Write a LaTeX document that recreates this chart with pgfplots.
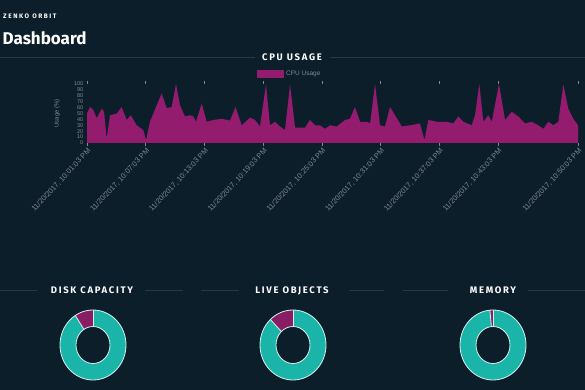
\documentclass[border=0pt]{standalone}
\usepackage{fontspec}
\setmainfont{Liberation Sans}
\newfontfamily\hfont{Fira Sans}
\usepackage{pgfplots}
\pgfplotsset{compat=1.18}
\definecolor{bg}{HTML}{0D1E2B}
\definecolor{mag}{HTML}{931C6F}
\definecolor{slicemag}{HTML}{8A1C63}
\definecolor{tealc}{HTML}{1AB5A8}
\definecolor{ringline}{HTML}{D5F2EE}
\definecolor{sepc}{HTML}{263946}
\definecolor{labc}{HTML}{7E8992}
\begin{document}
\begin{tikzpicture}
\fill[bg] (0pt,0pt) rectangle (585pt,390pt);
\useasboundingbox (0pt,0pt) rectangle (585pt,390pt);
% header
\node[anchor=base west, text=white, inner sep=0pt] at (3pt,371.7pt) {\hfont\bfseries\fontsize{6.5}{6.5}\selectfont\addfontfeature{LetterSpace=24}ZENKO ORBIT};
\node[anchor=base west, text=white, inner sep=0pt] at (2.5pt,345pt) {\hfont\bfseries\fontsize{17}{17}\selectfont Dashboard};
% CPU title
\draw[sepc, line width=0.6pt] (0pt,332.3pt) -- (255pt,332.3pt);
\draw[sepc, line width=0.6pt] (330pt,332.3pt) -- (585pt,332.3pt);
\node[text=white, inner sep=0pt] at (292pt,332.3pt) {\hfont\bfseries\fontsize{9.5}{9.5}\selectfont\addfontfeature{LetterSpace=18}CPU USAGE};
% donut titles
\draw[sepc, line width=0.6pt] (0pt,99.3pt) -- (37pt,99.3pt);
\draw[sepc, line width=0.6pt] (145pt,99.3pt) -- (183pt,99.3pt);
\draw[sepc, line width=0.6pt] (201pt,99.3pt) -- (239pt,99.3pt);
\draw[sepc, line width=0.6pt] (349pt,99.3pt) -- (384pt,99.3pt);
\draw[sepc, line width=0.6pt] (403pt,99.3pt) -- (448pt,99.3pt);
\draw[sepc, line width=0.6pt] (528pt,99.3pt) -- (585pt,99.3pt);
\node[text=white, inner sep=0pt] at (92pt,99.3pt) {\hfont\bfseries\fontsize{9.5}{9.5}\selectfont\addfontfeature{LetterSpace=18}DISK CAPACITY};
\node[text=white, inner sep=0pt] at (292pt,99.3pt) {\hfont\bfseries\fontsize{9.5}{9.5}\selectfont\addfontfeature{LetterSpace=18}LIVE OBJECTS};
\node[text=white, inner sep=0pt] at (493pt,99.3pt) {\hfont\bfseries\fontsize{9.5}{9.5}\selectfont\addfontfeature{LetterSpace=18}MEMORY};

% CPU usage chart
\begin{axis}[
  at={(87pt,247pt)}, anchor=south west,
  scale only axis, width=491pt, height=59pt,
  xmin=0, xmax=50.15, ymin=0, ymax=100,
  axis line style={draw=none},
  tick align=outside, major tick length=3pt,
  ytick={0,10,...,100}, ytick style={draw=none},
  yticklabel style={font=\fontsize{5.5}{5.5}\selectfont, text=labc, inner sep=0.5pt},
  xtick={0,6,12,18,24,30,36,42,50.15},
  xticklabels={{11/20/2017, 10:01:03 PM},{11/20/2017, 10:07:03 PM},{11/20/2017, 10:13:03 PM},{11/20/2017, 10:19:03 PM},{11/20/2017, 10:25:03 PM},{11/20/2017, 10:31:03 PM},{11/20/2017, 10:37:03 PM},{11/20/2017, 10:43:03 PM},{11/20/2017, 10:50:03 PM}},
  xticklabel style={rotate=47, anchor=north east, font=\fontsize{7.4}{7.4}\selectfont, text=labc, inner sep=1pt},
  xtick style={draw=labc, line width=0.6pt},
  /pgf/number format/assume math mode=true,
  ylabel={Usage (\%)},
  ylabel style={at={(axis description cs:-0.061,0.5)}, anchor=center, font=\fontsize{6}{6}\selectfont, text=labc},
  legend style={at={(axis description cs:0.413,1.17)}, anchor=center, draw=none, fill=none, text=labc, font=\fontsize{6.5}{6.5}\selectfont},
  legend image code/.code={\fill[mag] (0pt,-4pt) rectangle (27pt,4pt);},
  clip=false,
]
\addplot[fill=mag, draw=none] table[row sep=\\] {
x y\\
0 50\\ 0.31 61\\ 0.64 56\\ 0.99 42\\ 1.50 58\\ 1.74 53\\ 2.01 8\\ 2.35 47\\
3.03 50\\ 3.54 61\\ 4.06 39\\ 4.46 47\\ 5.08 30\\ 5.75 22\\ 6.03 5\\ 6.43 36\\
7.12 64\\ 7.63 84\\ 8.14 59\\ 8.65 61\\ 9.09 100\\ 9.50 64\\ 10.01 45\\ 10.52 47\\
10.86 45\\ 11.13 36\\ 11.72 67\\ 12.23 36\\ 12.90 39\\ 13.76 41\\ 14.61 38\\ 15.17 61\\
15.80 30\\ 16.65 43\\ 17.16 39\\ 17.67 28\\ 18.28 99\\ 18.69 30\\ 19.20 36\\ 19.71 28\\
20.22 22\\ 20.74 99\\ 21.25 26\\ 22.27 26\\ 22.78 39\\ 23.29 30\\ 23.80 30\\ 24.31 24\\
24.82 30\\ 25.51 28\\ 26.35 39\\ 26.86 41\\ 27.37 61\\ 27.89 36\\ 28.57 36\\ 28.91 33\\
29.42 100\\ 29.93 30\\ 30.44 28\\ 30.95 61\\ 31.46 47\\ 32.15 28\\ 32.99 30\\ 34.01 33\\
34.47 5\\ 34.86 39\\ 35.72 36\\ 36.74 36\\ 37.41 33\\ 37.93 45\\ 38.44 36\\ 39.29 30\\
39.63 47\\ 40.07 100\\ 40.48 36\\ 40.99 47\\ 41.34 36\\ 42.08 100\\ 42.70 39\\ 43.38 53\\
44.05 45\\ 44.74 33\\ 45.42 36\\ 46.10 30\\ 46.61 24\\ 47.12 36\\ 47.63 30\\ 48.14 36\\
48.65 99\\ 49.16 58\\ 49.67 41\\ 50.15 30\\
} \closedcycle;
\addlegendentry{CPU Usage}
\end{axis}

% Donuts: values are percentages used
% DISK CAPACITY: used 9
\begin{axis}[at={(93pt,45pt)}, anchor=center, hide axis, scale only axis,
  width=70pt, height=70pt, xmin=-1, xmax=1, ymin=-1, ymax=1, clip=false]
\fill[tealc, even odd rule] (axis cs:0,0) ellipse[x radius=33pt, y radius=35pt] (axis cs:0,0) ellipse[x radius=17pt, y radius=18.5pt];
\fill[slicemag] ([shift={(90:33pt and 35pt)}]axis cs:0,0) arc[start angle=90, end angle=122.4, x radius=33pt, y radius=35pt] -- ([shift={(122.4:17pt and 18.5pt)}]axis cs:0,0) arc[start angle=122.4, end angle=90, x radius=17pt, y radius=18.5pt] -- cycle;
\draw[ringline, line width=0.8pt] (axis cs:0,0) ellipse[x radius=33pt, y radius=35pt] (axis cs:0,0) ellipse[x radius=17pt, y radius=18.5pt];
\draw[ringline, line width=0.8pt] ([shift={(90:17pt and 18.5pt)}]axis cs:0,0) -- ([shift={(90:33pt and 35pt)}]axis cs:0,0);
\draw[ringline, line width=0.8pt] ([shift={(122.4:17pt and 18.5pt)}]axis cs:0,0) -- ([shift={(122.4:33pt and 35pt)}]axis cs:0,0);
\end{axis}
% LIVE OBJECTS: used 12
\begin{axis}[at={(293pt,45pt)}, anchor=center, hide axis, scale only axis,
  width=70pt, height=70pt, xmin=-1, xmax=1, ymin=-1, ymax=1, clip=false]
\fill[tealc, even odd rule] (axis cs:0,0) ellipse[x radius=33pt, y radius=35pt] (axis cs:0,0) ellipse[x radius=17pt, y radius=18.5pt];
\fill[slicemag] ([shift={(90:33pt and 35pt)}]axis cs:0,0) arc[start angle=90, end angle=133.2, x radius=33pt, y radius=35pt] -- ([shift={(133.2:17pt and 18.5pt)}]axis cs:0,0) arc[start angle=133.2, end angle=90, x radius=17pt, y radius=18.5pt] -- cycle;
\draw[ringline, line width=0.8pt] (axis cs:0,0) ellipse[x radius=33pt, y radius=35pt] (axis cs:0,0) ellipse[x radius=17pt, y radius=18.5pt];
\draw[ringline, line width=0.8pt] ([shift={(90:17pt and 18.5pt)}]axis cs:0,0) -- ([shift={(90:33pt and 35pt)}]axis cs:0,0);
\draw[ringline, line width=0.8pt] ([shift={(133.2:17pt and 18.5pt)}]axis cs:0,0) -- ([shift={(133.2:33pt and 35pt)}]axis cs:0,0);
\end{axis}
% MEMORY: used 1.5
\begin{axis}[at={(493pt,45pt)}, anchor=center, hide axis, scale only axis,
  width=70pt, height=70pt, xmin=-1, xmax=1, ymin=-1, ymax=1, clip=false]
\fill[tealc, even odd rule] (axis cs:0,0) ellipse[x radius=33pt, y radius=35pt] (axis cs:0,0) ellipse[x radius=17pt, y radius=18.5pt];
\fill[slicemag] ([shift={(90:33pt and 35pt)}]axis cs:0,0) arc[start angle=90, end angle=95.4, x radius=33pt, y radius=35pt] -- ([shift={(95.4:17pt and 18.5pt)}]axis cs:0,0) arc[start angle=95.4, end angle=90, x radius=17pt, y radius=18.5pt] -- cycle;
\draw[ringline, line width=0.8pt] (axis cs:0,0) ellipse[x radius=33pt, y radius=35pt] (axis cs:0,0) ellipse[x radius=17pt, y radius=18.5pt];
\draw[ringline, line width=0.8pt] ([shift={(90:17pt and 18.5pt)}]axis cs:0,0) -- ([shift={(90:33pt and 35pt)}]axis cs:0,0);
\draw[ringline, line width=0.8pt] ([shift={(95.4:17pt and 18.5pt)}]axis cs:0,0) -- ([shift={(95.4:33pt and 35pt)}]axis cs:0,0);
\end{axis}
\end{tikzpicture}
\end{document}
